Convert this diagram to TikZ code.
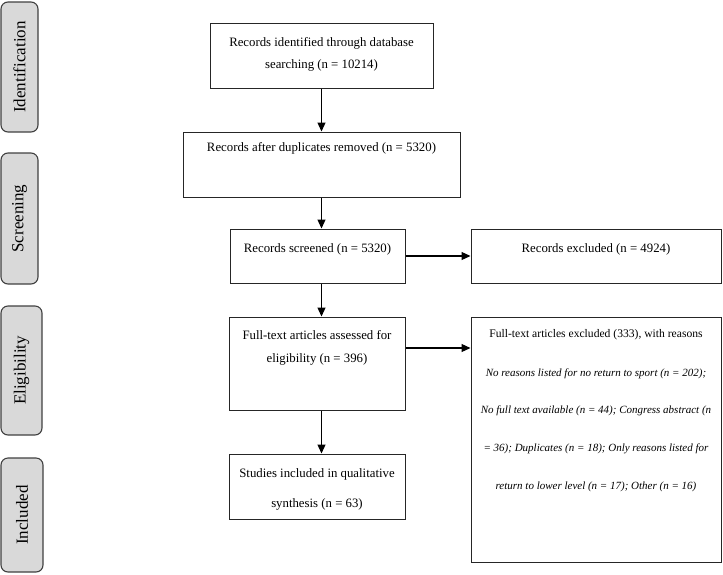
\documentclass[tikz,border=0pt]{standalone}
\usepackage{fontspec}
\setmainfont{Liberation Serif}
\usetikzlibrary{arrows.meta,positioning}

\tikzset{
  stage/.style={draw=black!75, fill=black!15, line width=1.1pt, rounded corners=7pt,
    rotate=90, minimum height=37pt, inner sep=0pt, font=\fontsize{17}{20}\selectfont},
  box/.style={draw=black!85, line width=1pt, inner sep=0pt},
  txt/.style={inner sep=0pt, align=center, font=\fontsize{12.8}{21.5}\selectfont},
  note/.style={inner sep=0pt, align=center, font=\fontsize{11}{37.7}\selectfont},
  arr/.style={-{Triangle[length=9pt,width=8pt]}, line width=1.2pt},
}

\begin{document}
\begin{tikzpicture}[x=1pt, y=-1pt]
\useasboundingbox (0,0) rectangle (723,574);

% phases on the left
\node[stage, minimum width=130pt] (ident) at (19.5,67) {Identification};
\node[stage, minimum width=131pt] (screen) at (19.5,218.5) {Screening};
\node[stage, minimum width=129pt, minimum height=41pt] (elig) at (21.5,370.5) {Eligibility};
\node[stage, minimum width=114pt, minimum height=42pt] (incl) at (22,515) {Included};

% boxes
\node[box, minimum width=223pt, minimum height=65pt] (b1) at (321.5,55.5) {};
\node[box, minimum width=277pt, minimum height=65pt] (b2) at (321.5,164.5) {};
\node[box, minimum width=175pt, minimum height=54pt] (b3) at (317.5,256) {};
\node[box, minimum width=250pt, minimum height=54pt] (ex1) at (596,256) {};
\node[box, minimum width=176pt, minimum height=93pt] (b4) at (317,363.5) {};
\node[box, minimum width=176pt, minimum height=65pt] (b5) at (317,486.5) {};
\node[box, minimum width=250pt, minimum height=245pt] (ex2) at (596,439.5) {};

% texts
\node[txt, below=15pt of b1.north] (b1t) {Records identified through database\\searching (n = 10214)};
\node[txt, below=10.5pt of b2.north] (b2t) {Records after duplicates removed (n = 5320)};
\node[txt, below=14.5pt of b3.north] (b3t) {Records screened (n = 5320)};
\node[txt, below=14.5pt of ex1.north] (ex1t) {Records excluded (n = 4924)};
\node[txt, below=13.5pt of b4.north, font=\fontsize{12.8}{23}\selectfont] (b4t) {Full-text articles assessed for\\eligibility (n = 396)};
\node[txt, below=14.5pt of b5.north, font=\fontsize{12.8}{30}\selectfont] (b5t) {Studies included in qualitative\\synthesis (n = 63)};
\node[note, below=12.5pt of ex2.north] (ex2t) {{\fontsize{11.6}{37.7}\selectfont Full-text articles excluded (333), with reasons}\\[1.3pt]
  \textit{No reasons listed for no return to sport (n = 202);}\\
  \textit{No full text available (n = 44); Congress abstract (n}\\
  \textit{= 36); Duplicates (n = 18); Only reasons listed for}\\
  \textit{return to lower level (n = 17); Other (n = 16)}};

% arrows
\draw[arr] (b1) -- (b2);
\draw[arr] (b2.south) -- (b2.south |- b3.north);
\draw[arr] (b3.south -| b2.south) -- (b4.north -| b2.south);
\draw[arr] (b4.south -| b2.south) -- (b5.north -| b2.south);
\draw[arr] (b3) -- (ex1);
\draw[arr] ([yshift=15.5pt]b4.east) coordinate (a4) -- (a4 -| ex2.west);
\end{tikzpicture}
\end{document}
